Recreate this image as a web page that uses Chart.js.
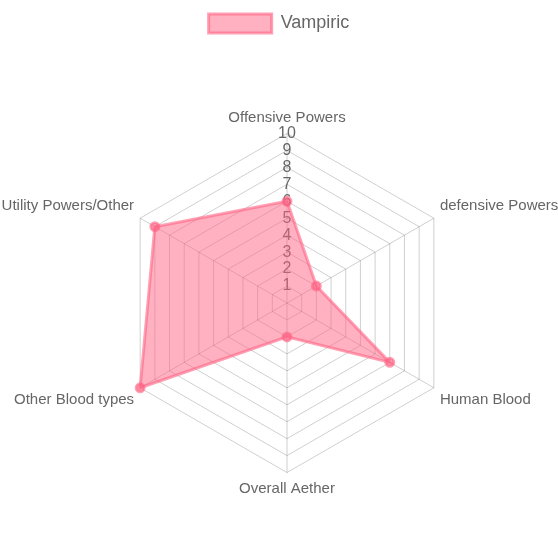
<!DOCTYPE html>
<html><head><meta charset="utf-8">
<script src="https://cdn.jsdelivr.net/npm/chart.js@4"></script>
<style>html,body{margin:0;padding:0;background:#fff}#w{width:558px;height:558px}</style>
</head><body><div id="w"><canvas id="c"></canvas></div>
<script>
const labels = ["Offensive Powers","defensive Powers","Human Blood","Overall Aether","Other Blood types","Utility Powers/Other"];
const vampiric = [6, 2, 7, 2, 10, 9];
const ticksMin = 0, ticksMax = 10;
Chart.defaults.font.family = "'Liberation Sans', Arial, Helvetica, sans-serif";
new Chart(document.getElementById('c'), {
  type: 'radar',
  data: { labels: labels, datasets: [{
    label: 'Vampiric', data: vampiric,
    backgroundColor: 'rgba(255,99,132,0.5)', borderColor: 'rgba(255,99,132,0.6)',
    borderWidth: 3, pointBackgroundColor: 'rgba(255,99,132,0.6)', pointBorderColor: 'rgba(255,99,132,0.6)', pointRadius: 4
  }]},
  options: {
    responsive: true, maintainAspectRatio: false, animation: false,
    plugins: {
      legend: { labels: { font: { size: 18 }, color: '#666', boxWidth: 63, boxHeight: 19, padding: 14 } },
      subtitle: { display: true, text: '', weight: 500, padding: 0, font: { size: 5 } }
    },
    scales: { r: {
      min: ticksMin, max: ticksMax,
      ticks: { stepSize: 1, showLabelBackdrop: false, backdropPadding: -56, font: { size: 16 }, color: '#666' },
      pointLabels: { font: { size: 15 }, color: '#666', padding: 55 },
      grid: { color: 'rgba(0,0,0,0.19)' }, angleLines: { color: 'rgba(0,0,0,0.19)' }
    }}
  }
});
</script></body></html>
